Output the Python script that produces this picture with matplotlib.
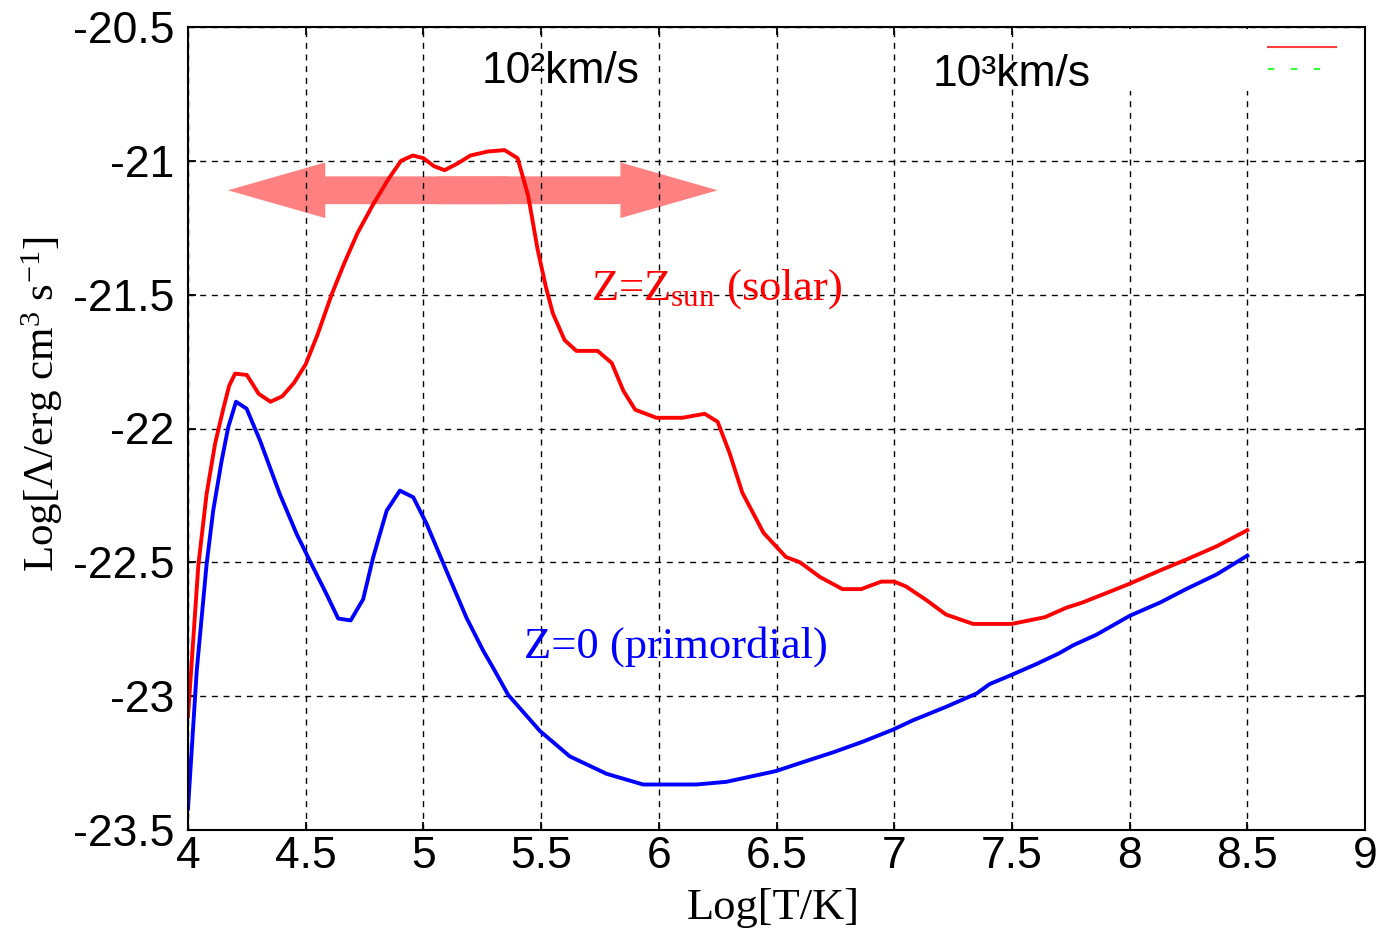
import matplotlib
matplotlib.use("Agg")
import matplotlib.pyplot as plt
from matplotlib.patches import FancyArrowPatch, ArrowStyle
from matplotlib.lines import Line2D
from matplotlib.ticker import FixedLocator, FixedFormatter

# ---------------- data ----------------
solar_logT = [4.00, 4.044, 4.079, 4.115, 4.15, 4.175, 4.20, 4.25, 4.30, 4.35, 4.40, 4.45,
              4.50, 4.55, 4.61, 4.665, 4.72, 4.785, 4.85, 4.905, 4.955, 5.00, 5.045, 5.09,
              5.145, 5.20, 5.275, 5.345, 5.40, 5.445, 5.485, 5.52, 5.55, 5.60, 5.65, 5.74,
              5.80, 5.85, 5.90, 5.99, 6.10, 6.195, 6.25, 6.30, 6.355, 6.445, 6.54, 6.60,
              6.685, 6.78, 6.86, 6.945, 7.00, 7.05, 7.135, 7.22, 7.335, 7.50, 7.64, 7.73,
              7.80, 7.915, 8.00, 8.13, 8.24, 8.37, 8.50]
solar_logL = [-23.075, -22.51, -22.245, -22.057, -21.926, -21.84, -21.795, -21.80, -21.87,
              -21.90, -21.88, -21.83, -21.76, -21.65, -21.50, -21.38, -21.27, -21.165,
              -21.07, -21.00, -20.98, -20.99, -21.02, -21.035, -21.01, -20.98, -20.965,
              -20.96, -20.99, -21.13, -21.33, -21.47, -21.57, -21.67, -21.71, -21.71,
              -21.755, -21.86, -21.93, -21.96, -21.96, -21.945, -21.975, -22.09, -22.24,
              -22.39, -22.48, -22.50, -22.555, -22.60, -22.60, -22.572, -22.572, -22.59,
              -22.64, -22.695, -22.73, -22.73, -22.705, -22.67, -22.65, -22.61, -22.58,
              -22.53, -22.49, -22.44, -22.38]

primordial_logT = [4.00, 4.037, 4.079, 4.107, 4.143, 4.171, 4.204, 4.249, 4.306, 4.39, 4.462,
                   4.532, 4.589, 4.638, 4.691, 4.744, 4.787, 4.844, 4.90, 4.957, 5.014, 5.098,
                   5.183, 5.254, 5.30, 5.36, 5.495, 5.622, 5.778, 5.933, 6.16, 6.287, 6.497,
                   6.60, 6.74, 6.867, 6.995, 7.08, 7.22, 7.35, 7.405, 7.50, 7.604, 7.70, 7.76,
                   7.86, 8.00, 8.13, 8.24, 8.37, 8.50]
primordial_logL = [-23.42, -22.906, -22.507, -22.307, -22.12, -21.995, -21.90, -21.926,
                   -22.045, -22.245, -22.395, -22.52, -22.62, -22.71, -22.717, -22.638,
                   -22.48, -22.307, -22.232, -22.257, -22.357, -22.532, -22.707, -22.83,
                   -22.90, -22.995, -23.13, -23.225, -23.29, -23.33, -23.33, -23.32, -23.28,
                   -23.25, -23.21, -23.17, -23.125, -23.09, -23.04, -22.99, -22.955, -22.92,
                   -22.88, -22.84, -22.81, -22.77, -22.70, -22.65, -22.60, -22.545, -22.475]

x_ticks = [4, 4.5, 5, 5.5, 6, 6.5, 7, 7.5, 8, 8.5, 9]
x_tick_labels = ['4', '4.5', '5', '5.5', '6', '6.5', '7', '7.5', '8', '8.5', '9']
y_ticks = [-20.5, -21, -21.5, -22, -22.5, -23, -23.5]
y_tick_labels = ['-20.5', '-21', '-21.5', '-22', '-22.5', '-23', '-23.5']

arrow_ends = [4.17, 6.25]
arrow_level = -21.11

# ---------------- style ----------------
SANS = ['Liberation Sans', 'DejaVu Sans']
SERIF = ['Liberation Serif', 'DejaVu Serif']
plt.rcParams['font.family'] = SANS
plt.rcParams['axes.unicode_minus'] = False
plt.rcParams['mathtext.fontset'] = 'custom'
plt.rcParams['mathtext.rm'] = 'Liberation Serif'
plt.rcParams['mathtext.it'] = 'Liberation Serif:italic'
plt.rcParams['mathtext.bf'] = 'Liberation Serif:bold'

fig = plt.figure(figsize=(13.83, 9.31), dpi=100)
ax = fig.add_axes([188 / 1383, 1 - 830 / 931, 1177 / 1383, 803 / 931])

ax.plot(solar_logT, solar_logL, color='#ff0000', lw=2.8, zorder=3)
ax.plot(primordial_logT, primordial_logL, color='#0000ff', lw=2.8, zorder=3)

# double-headed arrow (two overlapping single-headed halves)
center = (arrow_ends[0] + arrow_ends[1]) / 2
style = ArrowStyle.Simple(head_length=70, head_width=40, tail_width=20)
for tip in arrow_ends:
    start = center + (0.15 if tip < center else -0.15)
    ax.add_patch(FancyArrowPatch((start, arrow_level), (tip, arrow_level),
                                 arrowstyle=style, mutation_scale=1,
                                 color='#ff8080', lw=0, shrinkA=0, shrinkB=0,
                                 zorder=1))

ax.set_xlim(4, 9)
ax.set_ylim(-23.5, -20.5)
ax.xaxis.set_major_locator(FixedLocator(x_ticks))
ax.xaxis.set_major_formatter(FixedFormatter(x_tick_labels))
ax.yaxis.set_major_locator(FixedLocator(y_ticks))
ax.yaxis.set_major_formatter(FixedFormatter(y_tick_labels))

ax.grid(True, color='k', linestyle=(0, (4.3, 4.1)), linewidth=1.0, zorder=1.5)
ax.tick_params(direction='in', length=6, width=1.3, top=True, right=True,
               labelsize=32)
ax.tick_params(axis='x', pad=4.5)
ax.tick_params(axis='y', pad=10)
for s in ax.spines.values():
    s.set_linewidth(1.5)
    s.set_zorder(4)

ax.set_xlabel('Log[T/K]', fontsize=32, family=SERIF, va='center')
ax.xaxis.set_label_coords(0.497, -0.097)
ax.set_ylabel('Log[Λ/erg cm$^{3}$ s$^{-1}$]', fontsize=31, family=SERIF,
              va='center', ha='center')
ax.yaxis.set_label_coords(-0.124, 0.53)

ax.text(5.582, -20.709, '10²km/s', ha='center', va='baseline', fontsize=32, zorder=6)
ax.text(7.50, -20.719, '10³km/s', ha='center', va='baseline', fontsize=32, zorder=6)
ax.text(6.245, -21.518, r'Z=Z$_{\mathrm{sun}}$ (solar)', color='#ff0000',
        family=SERIF, fontsize=32, ha='center', va='baseline', zorder=6)
ax.text(6.071, -22.857, 'Z=0 (primordial)', color='#0000ff',
        family=SERIF, fontsize=32, ha='center', va='baseline', zorder=6)

handles = [Line2D([], [], color='#ff4040', lw=1.5),
           Line2D([], [], color='#33ff33', lw=1.5, linestyle=(0, (3, 8)))]
leg = ax.legend(handles, ['', ''], loc='upper right', bbox_to_anchor=(0.9856, 0.998),
                bbox_transform=ax.transAxes, markerfirst=False, frameon=True,
                fancybox=False, edgecolor='none', facecolor='white', framealpha=1,
                fontsize=14, handlelength=3.5, handletextpad=8.0, borderpad=0.6,
                labelspacing=0.2, borderaxespad=0)
leg.set_zorder(3.5)

fig.savefig('out.png', dpi=100)
